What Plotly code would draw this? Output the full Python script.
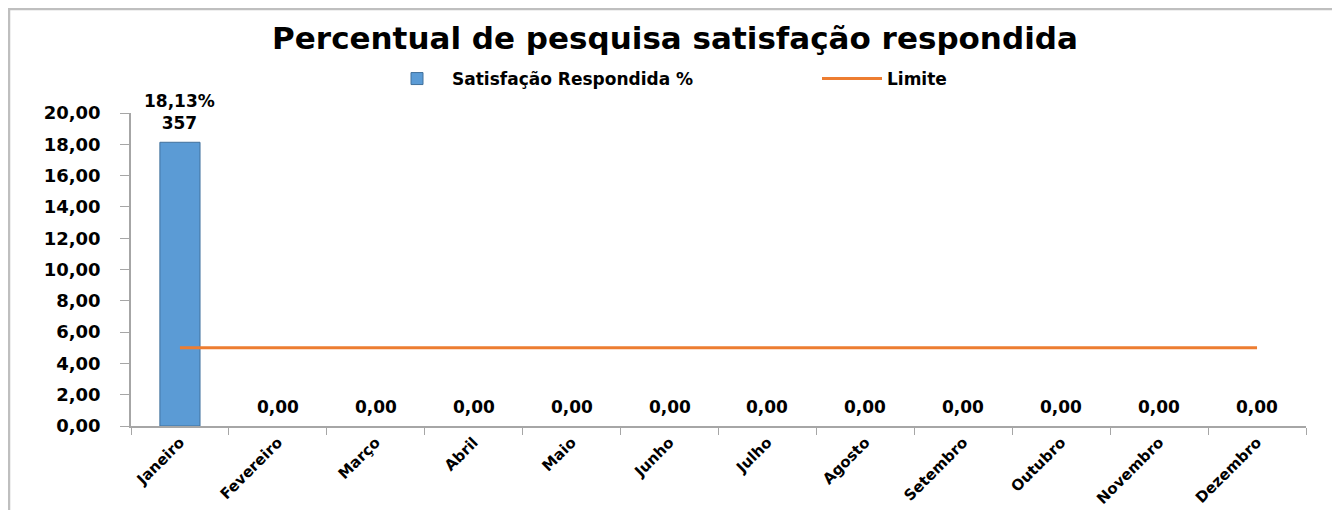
import plotly.graph_objects as go

months = ["Janeiro", "Fevereiro", "Março", "Abril", "Maio", "Junho", "Julho",
          "Agosto", "Setembro", "Outubro", "Novembro", "Dezembro"]
satisfacao = [18.13, 0, 0, 0, 0, 0, 0, 0, 0, 0, 0, 0]
respondidas = [357, None, None, None, None, None, None, None, None, None, None, None]
limite = [5, 5, 5, 5, 5, 5, 5, 5, 5, 5, 5, 5]
y_ticks = [0, 2, 4, 6, 8, 10, 12, 14, 16, 18, 20]

def fmt(v):
    return f"{v:.2f}".replace(".", ",")

bar_text = []
for v, n in zip(satisfacao, respondidas):
    if n is not None:
        bar_text.append(f"{fmt(v)}%<br>{n}")
    else:
        bar_text.append(fmt(v))

FONT = "DejaVu Sans"
OFF = 8  # page body margin
W, H = 1340 - OFF, 510 - OFF
L, R, T, B = 131 - OFF, 34, 113 - OFF, 84
pw, ph = W - L - R, H - T - B

def px_x(p):
    return (p - OFF - L) / pw

def px_y(p):
    return (H - B - (p - OFF)) / ph

fig = go.Figure()
fig.add_trace(go.Bar(
    x=months, y=satisfacao, name="Satisfação Respondida %",
    marker=dict(color="#5B9BD5",
                line=dict(color="#41719C",
                          width=[1 if v > 0 else 0 for v in satisfacao])),
))
fig.add_trace(go.Scatter(
    x=months, y=limite, name="Limite", mode="lines",
    line=dict(color="#ED7D31", width=3),
))

annotations = []
for m, v, t in zip(months, satisfacao, bar_text):
    annotations.append(dict(
        x=m, y=v, xref="x", yref="y", text=f"<b>{t}</b>", showarrow=False,
        xanchor="center", yanchor="bottom", yshift=7,
        font=dict(family=FONT, size=17, color="#000000"),
    ))

fig.update_layout(
    width=W, height=H,
    margin=dict(l=L, r=R, t=T, b=B, autoexpand=False),
    paper_bgcolor="white", plot_bgcolor="white",
    separators=",.",
    bargap=0.59,
    font=dict(family=FONT, color="#000000"),
    title=dict(text="<b>Percentual de pesquisa satisfação respondida</b>",
               x=(675 - OFF) / W, xanchor="center",
               y=1 - (38 - OFF) / H, yanchor="middle",
               font=dict(family=FONT, size=31, color="#000000")),
    legend=dict(orientation="h", x=px_x(817), xanchor="center",
                y=px_y(79), yanchor="middle",
                font=dict(family=FONT, size=17, color="#000000", weight="bold"),
                itemwidth=60, entrywidth=360, traceorder="normal"),
    showlegend=True,
    annotations=annotations,
    xaxis=dict(type="category", tickangle=-45, tickson="boundaries",
               ticks="outside", ticklen=7, tickcolor="#A6A6A6",
               showline=True, linecolor="#A6A6A6", linewidth=1.5,
               showgrid=False, zeroline=False,
               tickfont=dict(family=FONT, size=15, color="#000000", weight="bold")),
    yaxis=dict(range=[0, 20], tickvals=y_ticks, tickformat=".2f",
               ticks="outside", ticklen=9, tickcolor="#A6A6A6",
               ticklabelstandoff=16,
               showline=True, linecolor="#A6A6A6", linewidth=1.5,
               showgrid=False, zeroline=False,
               tickfont=dict(family=FONT, size=18, color="#000000", weight="bold")),
    shapes=[
        dict(type="line", xref="paper", yref="paper",
             x0=px_x(OFF), x1=px_x(1340), y0=px_y(OFF + 1), y1=px_y(OFF + 1),
             line=dict(color="#BFBFBF", width=2.5)),
        dict(type="line", xref="paper", yref="paper",
             x0=px_x(OFF + 1), x1=px_x(OFF + 1), y0=px_y(OFF), y1=px_y(510),
             line=dict(color="#BFBFBF", width=2.5)),
    ],
)

fig.write_html("out.html")
